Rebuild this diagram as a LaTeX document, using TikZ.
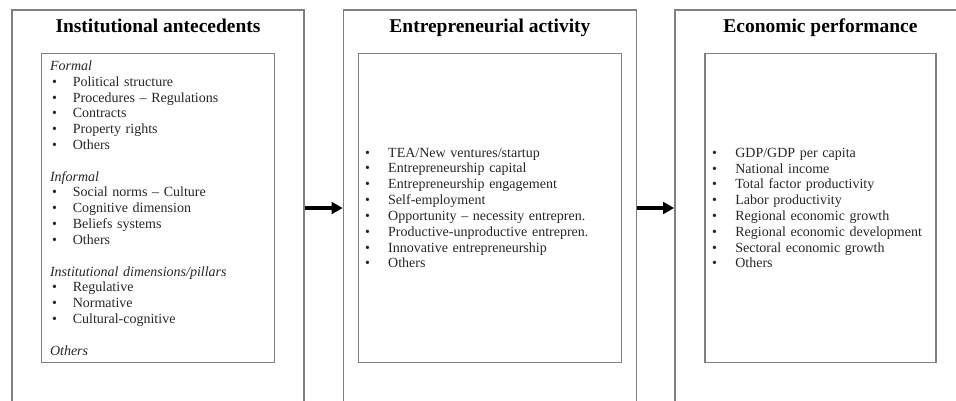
\documentclass[tikz,border=0pt]{standalone}
\usepackage{fontspec}
\setmainfont{Liberation Serif}
\usetikzlibrary{positioning,arrows.meta}

\newlength{\bulw}
\setlength{\bulw}{15.6pt}
\newcommand{\bul}[1]{\hspace*{1.5pt}\makebox[\bulw][l]{\textbullet}#1}

\begin{document}
\begin{tikzpicture}[x=1pt,y=1pt,
	outbox/.style={draw=black!50,line width=1.1pt,minimum height=297pt,inner sep=0pt},
	inbox/.style={draw=black!50,line width=1.1pt,minimum height=231.75pt,align=left,
		text=black!85,font=\fontsize{10.5}{11.87}\selectfont},
	widebul/.style={execute at begin node={\setlength{\bulw}{17.4pt}}},
	ttl/.style={inner sep=0pt,font=\fontsize{14.6}{16}\selectfont\bfseries},
	flow/.style={-{Triangle[length=8.25pt,width=8.7pt]},line width=2.6pt}]
	\useasboundingbox (0,0) rectangle (717,-300);
	\clip (0,0) rectangle (717,-300);
	\node[outbox,minimum width=219pt] (inst) at (118.5,-156) {};
	\node[outbox,minimum width=219.75pt] (entr) [right=28.5pt of inst] {};
	\node[outbox,minimum width=218.25pt] (econ) [right=27.75pt of entr] {};
	\node[ttl] (inst_t) [below=7pt of inst.north] {Institutional antecedents};
	\node[ttl] (entr_t) [below=7pt of entr.north] {Entrepreneurial activity};
	\node[ttl] (econ_t) [below=7pt of econ.north] {Economic performance};
	\node[inbox,inner xsep=6.4pt,text width=161.95pt] (inst_l) at (inst) {
		\textit{Formal}\\
		\bul{Political structure}\\
		\bul{Procedures -- Regulations}\\
		\bul{Contracts}\\
		\bul{Property rights}\\
		\bul{Others}\\[11.87pt]
		\textit{Informal}\\
		\bul{Social norms -- Culture}\\
		\bul{Cognitive dimension}\\
		\bul{Beliefs systems}\\
		\bul{Others}\\[11.87pt]
		\textit{Institutional dimensions/pillars}\\
		\bul{Regulative}\\
		\bul{Normative}\\
		\bul{Cultural-cognitive}\\[11.87pt]
		\textit{Others}};
	\node[inbox,widebul,inner xsep=3.4pt,text width=190.45pt] (entr_l) at (entr) {
		\bul{TEA/New ventures/startup}\\
		\bul{Entrepreneurship capital}\\
		\bul{Entrepreneurship engagement}\\
		\bul{Self-employment}\\
		\bul{Opportunity -- necessity entrepren.}\\
		\bul{Productive-unproductive entrepren.}\\
		\bul{Innovative entrepreneurship}\\
		\bul{Others}};
	\node[inbox,widebul,inner xsep=3.9pt,text width=165.45pt] (econ_l) at (econ) {
		\bul{GDP/GDP per capita}\\
		\bul{National income}\\
		\bul{Total factor productivity}\\
		\bul{Labor productivity}\\
		\bul{Regional economic growth}\\
		\bul{Regional economic development}\\
		\bul{Sectoral economic growth}\\
		\bul{Others}};
	\draw[flow] (inst) -- (entr);
	\draw[flow] (entr) -- (econ);
\end{tikzpicture}
\end{document}
